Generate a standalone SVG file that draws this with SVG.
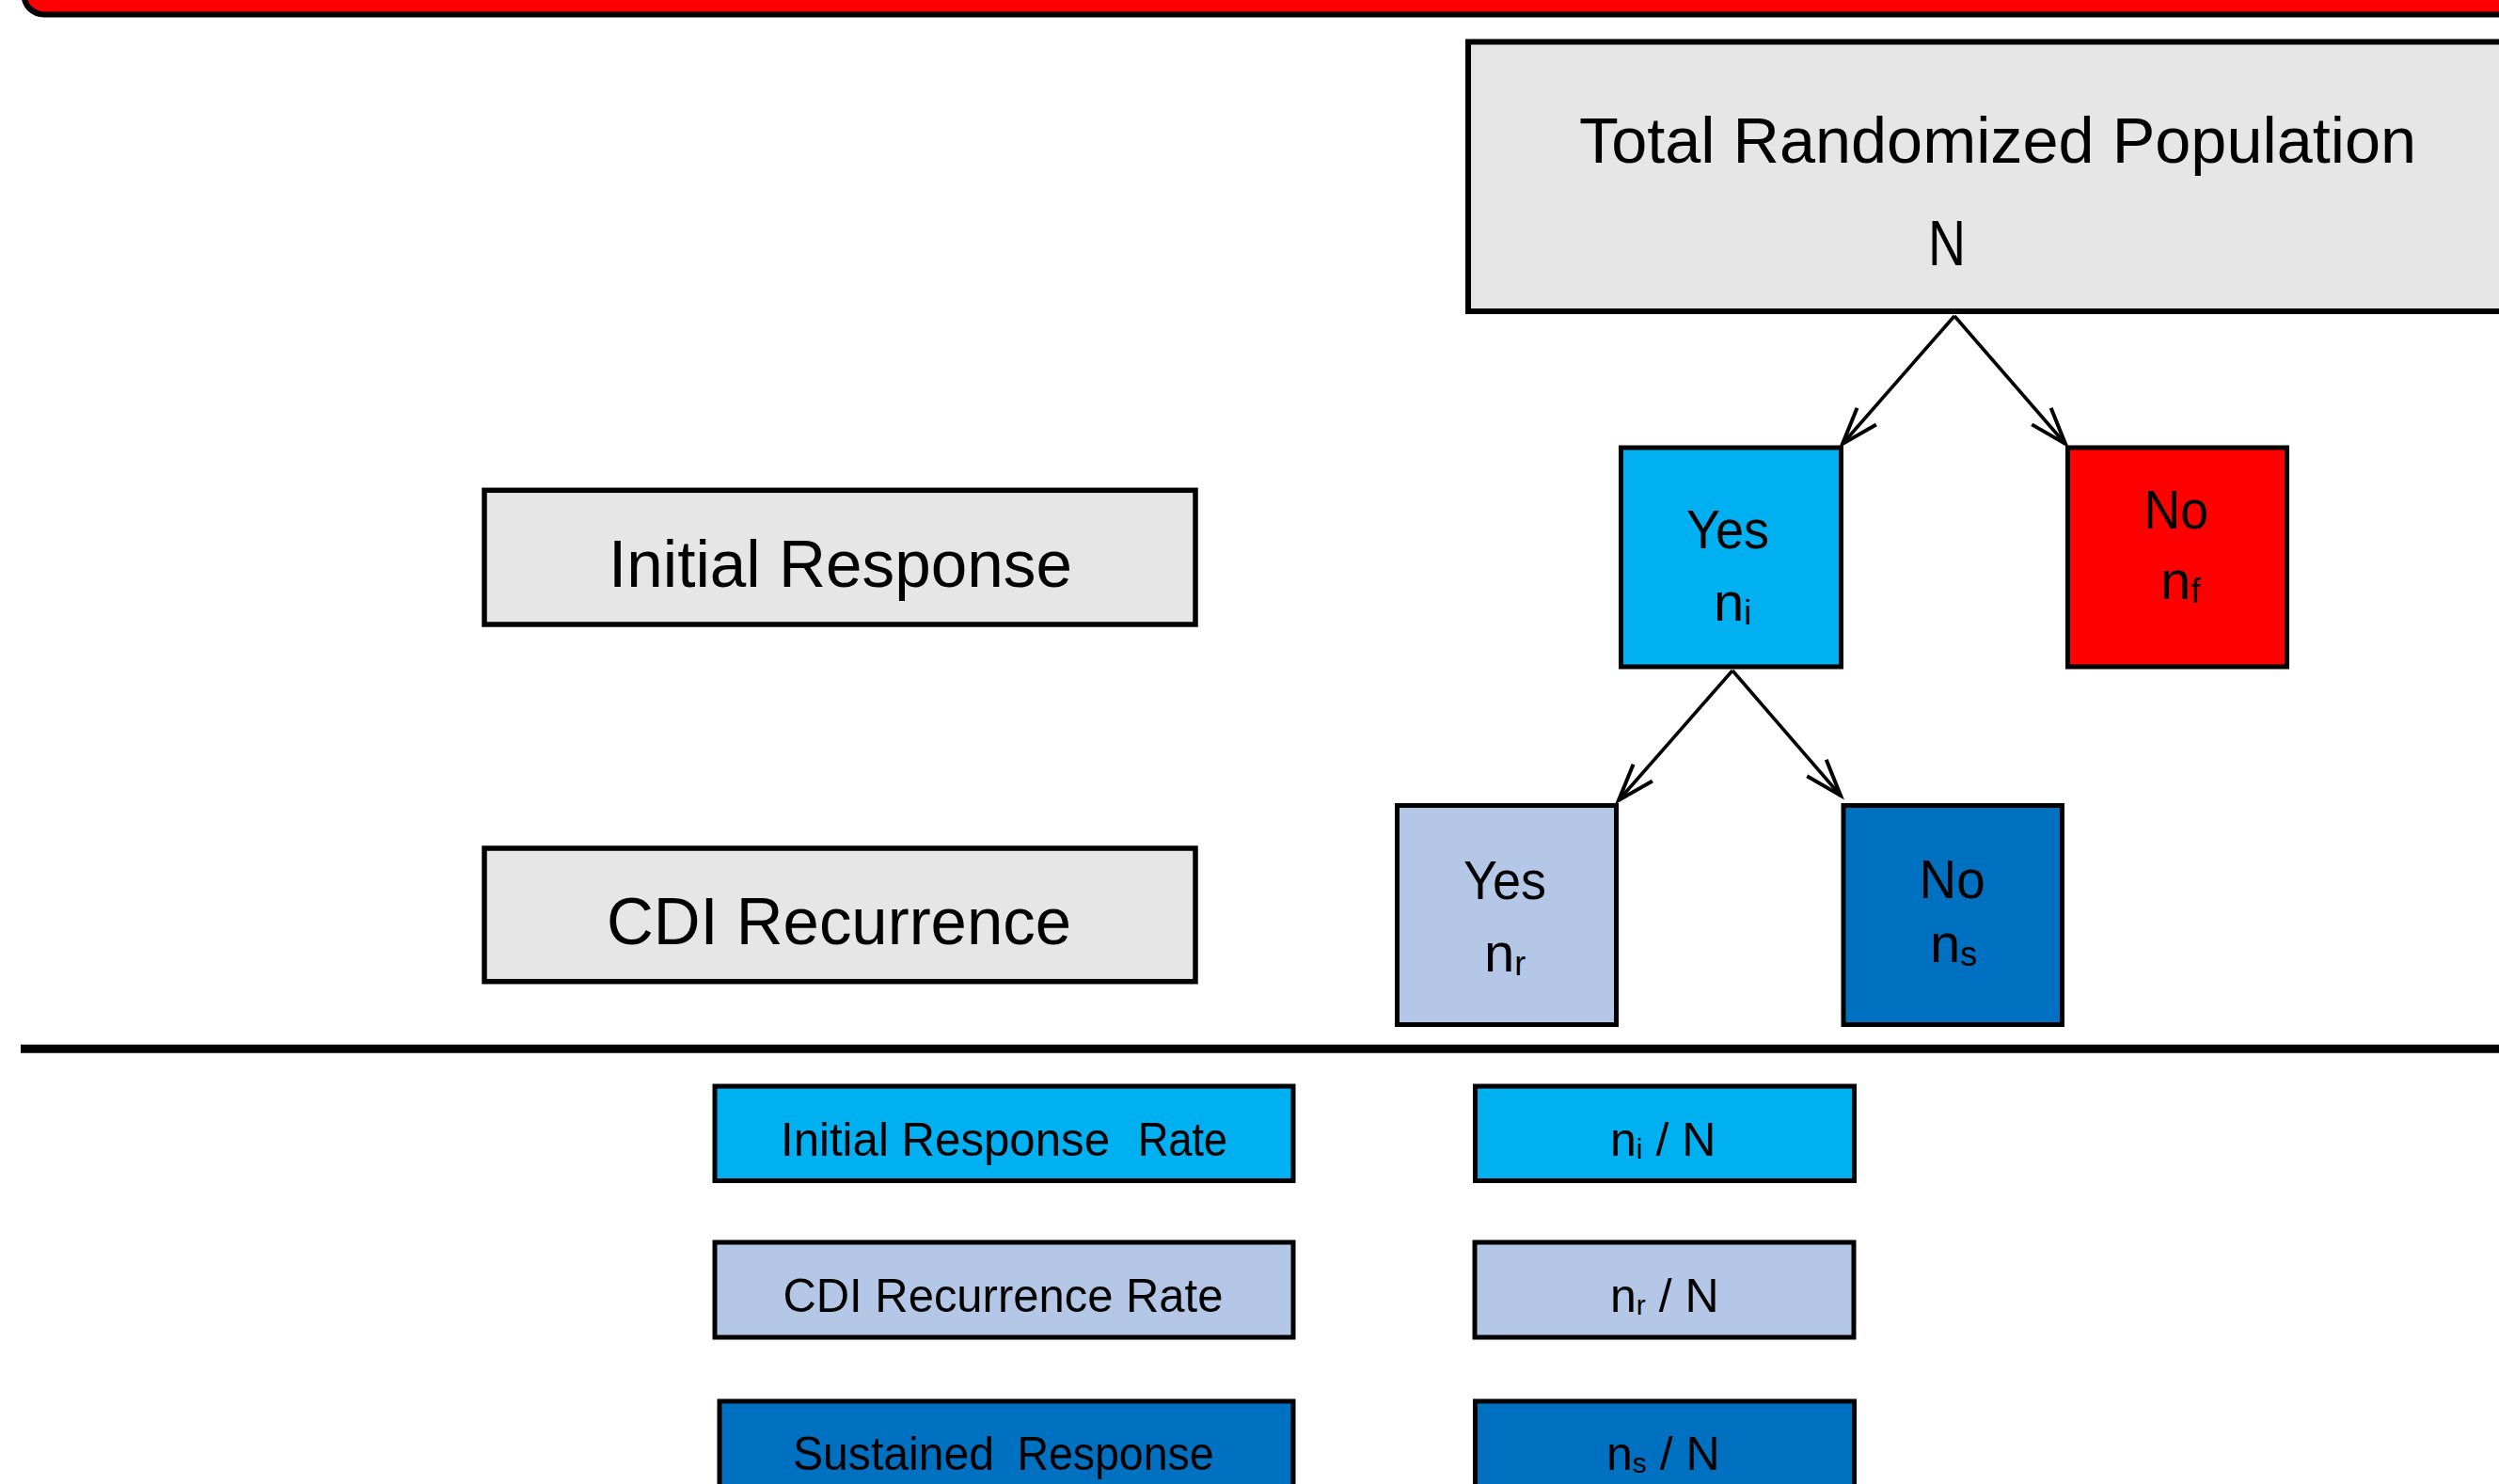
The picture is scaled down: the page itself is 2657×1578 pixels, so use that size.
<svg xmlns="http://www.w3.org/2000/svg" width="2657" height="1578" viewBox="0 0 2657 1578">
  <style>
    .box { stroke: #000; stroke-width: 5; }
    .gray { fill: #E6E6E6; }
    .sky { fill: #00B0F0; }
    .pale { fill: #B4C7E7; }
    .deep { fill: #0070C0; }
    .red { fill: #FF0000; }
    text { font-family: "Liberation Sans", Arial, sans-serif; fill: #000; }
    .big { font-size: 68px; }
    .label { font-size: 71px; }
    .mid { font-size: 58px; }
    .small { font-size: 50px; }
    .sub { font-size: 36px; }
    .subs { font-size: 30px; }
    .conn { stroke: #000; stroke-width: 3.6; fill: none; marker-end: url(#open); }
  </style>
  <defs>
    <marker id="open" markerUnits="userSpaceOnUse" viewBox="-46 -22 52 44" markerWidth="52" markerHeight="44" refX="0" refY="0" orient="auto" overflow="visible">
      <path d="M-39,-13.5 L0,0 L-39,13.5" fill="none" stroke="#000" stroke-width="4" stroke-linejoin="miter"/>
    </marker>
  </defs>

  <!-- header band -->
  <g id="header">
    <rect x="22.5" y="-80" width="2700" height="98.5" rx="24" fill="#000"/>
    <rect x="28" y="-80" width="2700" height="92.5" rx="20" fill="#FF0000"/>
  </g>

  <!-- top of tree -->
  <g id="total">
    <rect class="box gray" x="1561" y="44.5" width="1200" height="286.5" style="stroke-width:6"/>
    <text class="big" x="1679" y="172.7" textLength="890" lengthAdjust="spacingAndGlyphs">Total Randomized Population</text>
    <text class="big" x="2070" y="281.7" text-anchor="middle" textLength="40" lengthAdjust="spacingAndGlyphs">N</text>
  </g>

  <!-- row labels -->
  <g id="label-initial">
    <rect class="box gray" x="515" y="521.3" width="756" height="142.7" style="stroke-width:5.5"/>
    <text class="label" x="647" y="623.9" textLength="493" lengthAdjust="spacingAndGlyphs">Initial Response</text>
  </g>
  <g id="label-cdi">
    <rect class="box gray" x="515" y="902" width="756" height="141.7" style="stroke-width:5.5"/>
    <text class="label" x="645" y="1003.6" textLength="494" lengthAdjust="spacingAndGlyphs">CDI Recurrence</text>
  </g>

  <!-- outcome boxes -->
  <g id="initial-yes">
    <rect class="box sky" x="1723.5" y="476" width="234" height="233"/>
    <text class="mid" x="1793" y="583" textLength="88" lengthAdjust="spacingAndGlyphs">Yes</text>
    <text class="mid" x="1822" y="660">n<tspan class="sub" dy="4">i</tspan></text>
  </g>
  <g id="initial-no">
    <rect class="box red" x="2198.5" y="476" width="233" height="233"/>
    <text class="mid" x="2279.5" y="561.7" textLength="68.5" lengthAdjust="spacingAndGlyphs">No</text>
    <text class="mid" x="2297" y="636.7">n<tspan class="sub" dy="4">f</tspan></text>
  </g>
  <g id="recurrence-yes">
    <rect class="box pale" x="1485.5" y="856.5" width="233" height="233"/>
    <text class="mid" x="1556" y="956" textLength="88" lengthAdjust="spacingAndGlyphs">Yes</text>
    <text class="mid" x="1578" y="1033">n<tspan class="sub" dy="4">r</tspan></text>
  </g>
  <g id="recurrence-no">
    <rect class="box deep" x="1960" y="856.5" width="232.5" height="233"/>
    <text class="mid" x="2040.6" y="955" textLength="70" lengthAdjust="spacingAndGlyphs">No</text>
    <text class="mid" x="2052" y="1022.7">n<tspan class="sub" dy="4">s</tspan></text>
  </g>

  <!-- connectors -->
  <g id="connectors">
    <line class="conn" x1="2078" y1="336" x2="1959" y2="472"/>
    <line class="conn" x1="2078" y1="336" x2="2196" y2="472"/>
    <line class="conn" x1="1842" y1="713" x2="1721" y2="851"/>
    <line class="conn" x1="1842" y1="713" x2="1957" y2="846"/>
  </g>

  <!-- divider -->
  <line id="divider" x1="22" y1="1115.3" x2="2657" y2="1115.3" stroke="#000" stroke-width="9"/>

  <!-- summary rates -->
  <g id="rate-initial">
    <rect class="box sky" x="760" y="1155" width="615" height="100.5"/>
    <text class="small" x="830" y="1229.3"><tspan textLength="350" lengthAdjust="spacingAndGlyphs">Initial Response</tspan><tspan x="1210" textLength="95" lengthAdjust="spacingAndGlyphs">Rate</tspan></text>
  </g>
  <g id="value-initial">
    <rect class="box sky" x="1568.5" y="1155" width="403" height="100.5"/>
    <text class="small" x="1712" y="1229.3">n<tspan class="subs" dy="3">i</tspan><tspan dy="-3"> / N</tspan></text>
  </g>
  <g id="rate-cdi">
    <rect class="box pale" x="760" y="1321" width="615" height="101"/>
    <text class="small" x="832.4" y="1395" textLength="468" lengthAdjust="spacingAndGlyphs">CDI Recurrence Rate</text>
  </g>
  <g id="value-cdi">
    <rect class="box pale" x="1568" y="1321" width="403" height="101"/>
    <text class="small" x="1712" y="1395">n<tspan class="subs" dy="3">r</tspan><tspan dy="-3"> / N</tspan></text>
  </g>
  <g id="rate-sustained">
    <rect class="box deep" x="765" y="1490" width="610" height="200"/>
    <text class="small" x="843" y="1563.3"><tspan textLength="214" lengthAdjust="spacingAndGlyphs">Sustained</tspan><tspan x="1081.5" textLength="209" lengthAdjust="spacingAndGlyphs">Response</tspan></text>
  </g>
  <g id="value-sustained">
    <rect class="box deep" x="1568.5" y="1490" width="403" height="200"/>
    <text class="small" x="1708" y="1562.7">n<tspan class="subs" dy="3">s</tspan><tspan dy="-3"> / N</tspan></text>
  </g>
</svg>
